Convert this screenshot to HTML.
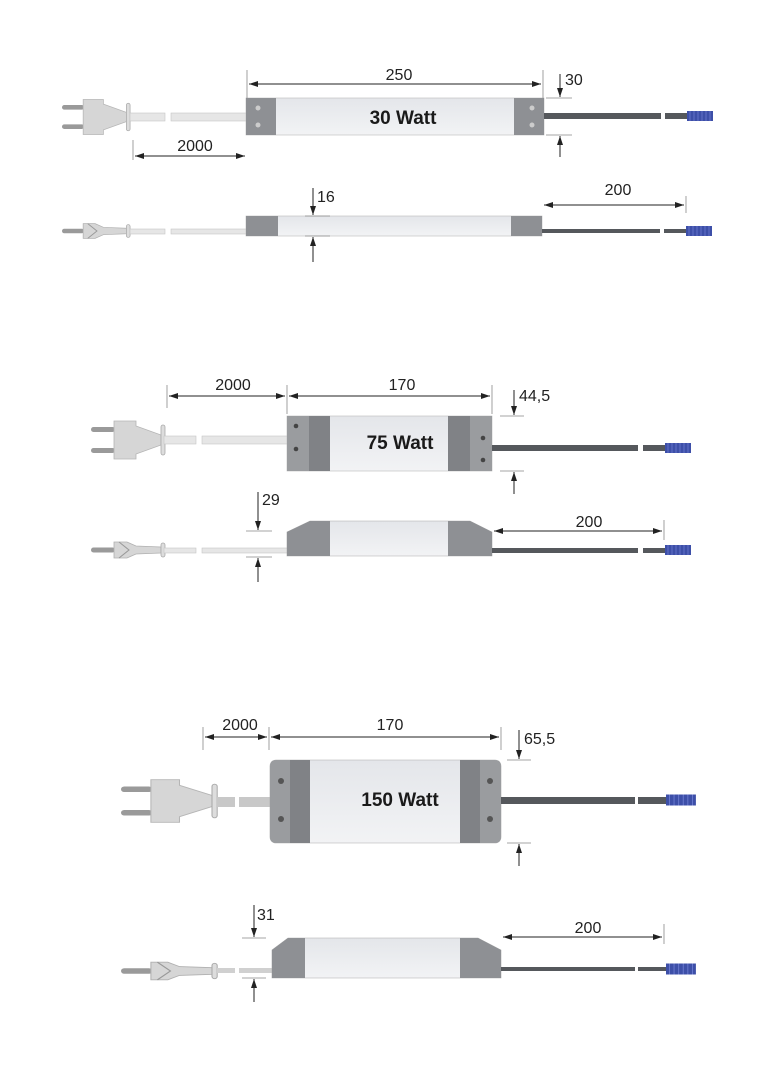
<!DOCTYPE html>
<html><head><meta charset="utf-8"><style>
html,body{margin:0;padding:0;background:#fff;}
svg{display:block;}
text{font-family:"Liberation Sans",sans-serif;fill:#222;}
.d{stroke:#222;stroke-width:1;fill:none;}
.e{stroke:#888;stroke-width:0.8;fill:none;}
.w{font-weight:bold;font-size:19px;fill:#1a1a1a;}
.l{font-size:16px;}
</style></head><body>
<svg width="772" height="1080" viewBox="0 0 772 1080" xmlns="http://www.w3.org/2000/svg">
<defs>
<marker id="a" markerWidth="10" markerHeight="8" refX="9" refY="4" orient="auto-start-reverse" markerUnits="userSpaceOnUse"><path d="M0,1 L9,4 L0,7 Z" fill="#222"/></marker>
<linearGradient id="bd" x1="0" y1="0" x2="0" y2="1"><stop offset="0" stop-color="#e4e6ea"/><stop offset="1" stop-color="#f2f3f5"/></linearGradient>
<g id="plugT">
 <rect x="0" y="-13" width="24" height="5" rx="2.5" fill="#9a9a9a"/>
 <rect x="0" y="8" width="24" height="5" rx="2.5" fill="#9a9a9a"/>
 <path d="M23,-19 L45,-19 L45,-14 L70,-5 L70,5 L45,14 L45,19 L23,19 Z" fill="#d6d6d6" stroke="#b5b5b5" stroke-width="0.8"/>
 <rect x="70" y="-15" width="4" height="30" rx="2" fill="#ddd" stroke="#aaa" stroke-width="0.8"/>
</g>
<g id="plugS">
 <rect x="0" y="-2.5" width="24" height="5" rx="2.5" fill="#9a9a9a"/>
 <path d="M23,-8 L36,-8 L45,-4 L70,-3 L70,3 L45,4 L36,8 L23,8 Z" fill="#d6d6d6" stroke="#b0b0b0" stroke-width="0.8"/>
 <path d="M28,-8 L38,0 L28,8" fill="none" stroke="#999" stroke-width="1"/>
 <rect x="70" y="-7" width="4" height="14" rx="2" fill="#ddd" stroke="#aaa" stroke-width="0.8"/>
</g>
<g id="conn">
 <rect x="0" y="-5" width="26" height="10" fill="#3d4fa8"/>
 <path d="M3,-5v10M7,-5v10M11,-5v10M15,-5v10M19,-5v10M23,-5v10" stroke="#6b7bd0" stroke-width="0.8"/>
</g>
</defs>

<!-- ========== 30 W top ========== -->
<use href="#plugT" transform="translate(62,117) scale(0.92,0.92)"/>
<rect x="130" y="113" width="35" height="8" fill="#e6e6e6" stroke="#c5c5c5" stroke-width="0.6"/>
<rect x="171" y="113" width="76" height="8" fill="#e6e6e6" stroke="#c5c5c5" stroke-width="0.6"/>
<rect x="246" y="98" width="298" height="37" fill="url(#bd)" stroke="#bbb" stroke-width="0.6"/>
<rect x="246" y="98" width="30" height="37" fill="#8e9094"/>
<rect x="514" y="98" width="30" height="37" fill="#8e9094"/>
<circle cx="258" cy="108" r="2.5" fill="#ccc"/><circle cx="258" cy="125" r="2.5" fill="#ccc"/>
<circle cx="532" cy="108" r="2.5" fill="#ccc"/><circle cx="532" cy="125" r="2.5" fill="#ccc"/>
<text x="403" y="124" class="w" text-anchor="middle">30 Watt</text>
<rect x="544" y="113" width="117" height="6" fill="#55585c"/>
<rect x="665" y="113" width="24" height="6" fill="#55585c"/>
<use href="#conn" transform="translate(687,116)"/>
<line x1="247" y1="70" x2="247" y2="98" class="e"/><line x1="543" y1="70" x2="543" y2="98" class="e"/>
<line x1="249" y1="84" x2="541" y2="84" class="d" marker-start="url(#a)" marker-end="url(#a)"/>
<text x="399" y="80" class="l" text-anchor="middle">250</text>
<line x1="133" y1="140" x2="133" y2="160" class="e"/>
<line x1="135" y1="156" x2="245" y2="156" class="d" marker-start="url(#a)" marker-end="url(#a)"/>
<text x="195" y="151" class="l" text-anchor="middle">2000</text>
<line x1="546" y1="98" x2="572" y2="98" class="e"/><line x1="546" y1="135" x2="572" y2="135" class="e"/>
<line x1="560" y1="74" x2="560" y2="97" class="d" marker-end="url(#a)"/>
<line x1="560" y1="157" x2="560" y2="136" class="d" marker-end="url(#a)"/>
<text x="565" y="85" class="l">30</text>

<!-- ========== 30 W side ========== -->
<use href="#plugS" transform="translate(62,231) scale(0.92,0.92)"/>
<rect x="130" y="229" width="35" height="5" fill="#e6e6e6" stroke="#c5c5c5" stroke-width="0.6"/>
<rect x="171" y="229" width="76" height="5" fill="#e6e6e6" stroke="#c5c5c5" stroke-width="0.6"/>
<rect x="246" y="216" width="296" height="20" fill="url(#bd)" stroke="#bbb" stroke-width="0.6"/>
<rect x="246" y="216" width="32" height="20" fill="#8e9094"/>
<rect x="511" y="216" width="31" height="20" fill="#8e9094"/>
<rect x="542" y="229" width="118" height="4" fill="#55585c"/>
<rect x="664" y="229" width="22" height="4" fill="#55585c"/>
<use href="#conn" transform="translate(686,231)"/>
<line x1="305" y1="216" x2="330" y2="216" class="e"/><line x1="305" y1="236" x2="330" y2="236" class="e"/>
<line x1="313" y1="188" x2="313" y2="215" class="d" marker-end="url(#a)"/>
<line x1="313" y1="262" x2="313" y2="237" class="d" marker-end="url(#a)"/>
<text x="317" y="202" class="l">16</text>
<line x1="686" y1="196" x2="686" y2="213" class="e"/>
<line x1="544" y1="205" x2="684" y2="205" class="d" marker-start="url(#a)" marker-end="url(#a)"/>
<text x="618" y="195" class="l" text-anchor="middle">200</text>

<!-- ========== 75 W top ========== -->
<use href="#plugT" transform="translate(91,440)"/>
<rect x="164" y="436" width="32" height="8" fill="#e6e6e6" stroke="#c5c5c5" stroke-width="0.6"/>
<rect x="202" y="436" width="86" height="8" fill="#e6e6e6" stroke="#c5c5c5" stroke-width="0.6"/>
<rect x="287" y="416" width="205" height="55" fill="url(#bd)" stroke="#bbb" stroke-width="0.6"/>
<rect x="287" y="416" width="22" height="55" fill="#9a9c9f"/>
<rect x="309" y="416" width="21" height="55" fill="#808286"/>
<rect x="448" y="416" width="22" height="55" fill="#808286"/>
<rect x="470" y="416" width="22" height="55" fill="#9a9c9f"/>
<circle cx="296" cy="426" r="2.3" fill="#444"/><circle cx="296" cy="449" r="2.3" fill="#444"/>
<circle cx="483" cy="438" r="2.3" fill="#444"/><circle cx="483" cy="460" r="2.3" fill="#444"/>
<text x="400" y="449" class="w" text-anchor="middle">75 Watt</text>
<rect x="492" y="445" width="146" height="6" fill="#55585c"/>
<rect x="643" y="445" width="22" height="6" fill="#55585c"/>
<use href="#conn" transform="translate(665,448)"/>
<line x1="167" y1="385" x2="167" y2="408" class="e"/><line x1="287" y1="385" x2="287" y2="414" class="e"/><line x1="492" y1="385" x2="492" y2="414" class="e"/>
<line x1="169" y1="396" x2="285" y2="396" class="d" marker-start="url(#a)" marker-end="url(#a)"/>
<line x1="289" y1="396" x2="490" y2="396" class="d" marker-start="url(#a)" marker-end="url(#a)"/>
<text x="233" y="390" class="l" text-anchor="middle">2000</text>
<text x="402" y="390" class="l" text-anchor="middle">170</text>
<line x1="500" y1="416" x2="524" y2="416" class="e"/><line x1="500" y1="471" x2="524" y2="471" class="e"/>
<line x1="514" y1="390" x2="514" y2="415" class="d" marker-end="url(#a)"/>
<line x1="514" y1="494" x2="514" y2="472" class="d" marker-end="url(#a)"/>
<text x="519" y="401" class="l">44,5</text>

<!-- ========== 75 W side ========== -->
<use href="#plugS" transform="translate(91,550)"/>
<rect x="164" y="548" width="32" height="5" fill="#e6e6e6" stroke="#c5c5c5" stroke-width="0.6"/>
<rect x="202" y="548" width="86" height="5" fill="#e6e6e6" stroke="#c5c5c5" stroke-width="0.6"/>
<path d="M287,532 L310,521 L470,521 L492,532 L492,556 L287,556 Z" fill="url(#bd)" stroke="#aaa" stroke-width="0.6"/>
<path d="M287,532 L310,521 L330,521 L330,556 L287,556 Z" fill="#8e9094"/>
<path d="M448,521 L470,521 L492,532 L492,556 L448,556 Z" fill="#8e9094"/>
<rect x="492" y="548" width="146" height="5" fill="#55585c"/>
<rect x="643" y="548" width="22" height="5" fill="#55585c"/>
<use href="#conn" transform="translate(665,550)"/>
<line x1="246" y1="531" x2="272" y2="531" class="e"/><line x1="246" y1="557" x2="272" y2="557" class="e"/>
<line x1="258" y1="492" x2="258" y2="530" class="d" marker-end="url(#a)"/>
<line x1="258" y1="582" x2="258" y2="558" class="d" marker-end="url(#a)"/>
<text x="262" y="505" class="l">29</text>
<line x1="664" y1="520" x2="664" y2="540" class="e"/>
<line x1="494" y1="531" x2="662" y2="531" class="d" marker-start="url(#a)" marker-end="url(#a)"/>
<text x="589" y="527" class="l" text-anchor="middle">200</text>

<!-- ========== 150 W top ========== -->
<use href="#plugT" transform="translate(121,801) scale(1.3,1.12)"/>
<rect x="217" y="797" width="18" height="10" fill="#c8c8c8"/>
<rect x="239" y="797" width="32" height="10" fill="#c8c8c8"/>
<rect x="270" y="760" width="231" height="83" rx="6" fill="url(#bd)" stroke="#aaa" stroke-width="0.6"/>
<path d="M276,760 L290,760 L290,843 L276,843 Q270,843 270,837 L270,766 Q270,760 276,760 Z" fill="#9a9c9f"/>
<rect x="290" y="760" width="20" height="83" fill="#808286"/>
<rect x="460" y="760" width="20" height="83" fill="#808286"/>
<path d="M480,760 L495,760 Q501,760 501,766 L501,837 Q501,843 495,843 L480,843 Z" fill="#9a9c9f"/>
<circle cx="281" cy="781" r="3" fill="#555"/><circle cx="281" cy="819" r="3" fill="#555"/>
<circle cx="490" cy="781" r="3" fill="#555"/><circle cx="490" cy="819" r="3" fill="#555"/>
<text x="400" y="806" class="w" text-anchor="middle">150 Watt</text>
<rect x="501" y="797" width="134" height="7" fill="#55585c"/>
<rect x="638" y="797" width="28" height="7" fill="#55585c"/>
<use href="#conn" transform="translate(666,800) scale(1.15,1.1)"/>
<line x1="203" y1="727" x2="203" y2="750" class="e"/><line x1="269" y1="727" x2="269" y2="750" class="e"/><line x1="501" y1="727" x2="501" y2="750" class="e"/>
<line x1="205" y1="737" x2="267" y2="737" class="d" marker-start="url(#a)" marker-end="url(#a)"/>
<line x1="271" y1="737" x2="499" y2="737" class="d" marker-start="url(#a)" marker-end="url(#a)"/>
<text x="240" y="730" class="l" text-anchor="middle">2000</text>
<text x="390" y="730" class="l" text-anchor="middle">170</text>
<line x1="507" y1="760" x2="531" y2="760" class="e"/><line x1="507" y1="843" x2="531" y2="843" class="e"/>
<line x1="519" y1="730" x2="519" y2="759" class="d" marker-end="url(#a)"/>
<line x1="519" y1="866" x2="519" y2="844" class="d" marker-end="url(#a)"/>
<text x="524" y="744" class="l">65,5</text>

<!-- ========== 150 W side ========== -->
<use href="#plugS" transform="translate(121,971) scale(1.3,1.1)"/>
<rect x="217" y="968" width="18" height="5" fill="#d0d0d0"/>
<rect x="239" y="968" width="33" height="5" fill="#d0d0d0"/>
<path d="M272,950 L288,938 L478,938 L501,950 L501,978 L272,978 Z" fill="url(#bd)" stroke="#aaa" stroke-width="0.6"/>
<path d="M272,950 L288,938 L305,938 L305,978 L272,978 Z" fill="#8e9094"/>
<path d="M460,938 L478,938 L501,950 L501,978 L460,978 Z" fill="#8e9094"/>
<rect x="501" y="967" width="134" height="4" fill="#55585c"/>
<rect x="638" y="967" width="28" height="4" fill="#55585c"/>
<use href="#conn" transform="translate(666,969) scale(1.15,1.1)"/>
<line x1="242" y1="938" x2="266" y2="938" class="e"/><line x1="242" y1="978" x2="266" y2="978" class="e"/>
<line x1="254" y1="905" x2="254" y2="937" class="d" marker-end="url(#a)"/>
<line x1="254" y1="1002" x2="254" y2="979" class="d" marker-end="url(#a)"/>
<text x="257" y="920" class="l">31</text>
<line x1="664" y1="924" x2="664" y2="944" class="e"/>
<line x1="503" y1="937" x2="662" y2="937" class="d" marker-start="url(#a)" marker-end="url(#a)"/>
<text x="588" y="933" class="l" text-anchor="middle">200</text>
</svg>
</body></html>
